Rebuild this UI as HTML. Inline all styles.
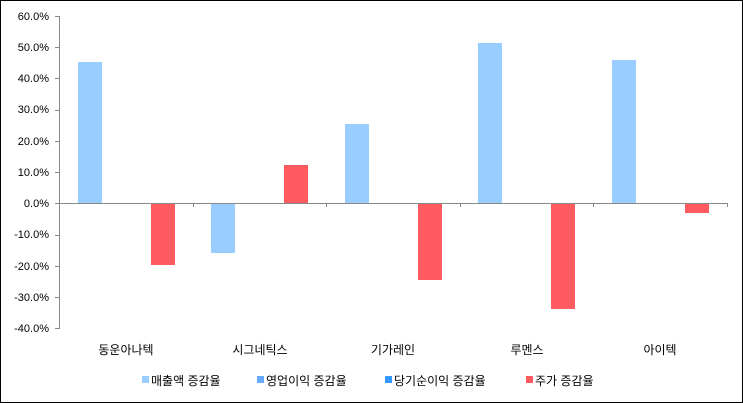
<!DOCTYPE html>
<html><head><meta charset="utf-8"><style>
html,body{margin:0;padding:0;background:#fff}
svg{display:block}
text{font-family:"Liberation Sans","Noto Sans CJK KR","NanumGothic",sans-serif;fill:#000}
</style></head><body>
<svg width="743" height="403" viewBox="0 0 743 403" xmlns="http://www.w3.org/2000/svg">
<rect x="0.5" y="0.5" width="742" height="402" fill="#fff" stroke="#000" stroke-width="1"/>
<g font-size="11" text-anchor="end">
<text x="49" y="20">60.0%</text>
<text x="49" y="51">50.0%</text>
<text x="49" y="82">40.0%</text>
<text x="49" y="113">30.0%</text>
<text x="49" y="145">20.0%</text>
<text x="49" y="176">10.0%</text>
<text x="49" y="207">0.0%</text>
<text x="49" y="238">-10.0%</text>
<text x="49" y="270">-20.0%</text>
<text x="49" y="301">-30.0%</text>
<text x="49" y="332">-40.0%</text>
</g>
<g stroke="#888" stroke-width="1" fill="none">
<line x1="59.5" y1="16" x2="59.5" y2="329"/>
<path d="M55 16.5h4M55 47.5h4M55 78.5h4M55 110.5h4M55 141.5h4M55 172.5h4M55 203.5h4M55 235.5h4M55 266.5h4M55 297.5h4M55 328.5h4"/>
</g>
<g fill="#99ccff">
<rect x="78" y="62" width="24" height="141"/>
<rect x="211" y="203" width="24" height="50"/>
<rect x="345" y="124" width="24" height="79"/>
<rect x="478" y="43" width="24" height="160"/>
<rect x="612" y="60" width="24" height="143"/>
</g>
<g fill="#ff5b61">
<rect x="151" y="203" width="24" height="62"/>
<rect x="284" y="165" width="24" height="38"/>
<rect x="418" y="203" width="24" height="77"/>
<rect x="551" y="203" width="24" height="106"/>
<rect x="685" y="203" width="24" height="10"/>
</g>
<g stroke="#888" stroke-width="1">
<line x1="59" y1="203.5" x2="727" y2="203.5"/>
<path d="M193.5 203v4M326.5 203v4M460.5 203v4M593.5 203v4M727.5 203v4"/>
</g>
<g font-size="12" text-anchor="middle">
<text x="126" y="354">동운아나텍</text>
<text x="260" y="354">시그네틱스</text>
<text x="393" y="354">기가레인</text>
<text x="527" y="354">루멘스</text>
<text x="660" y="354">아이텍</text>
</g>
<g font-size="12">
<rect x="142" y="376" width="7" height="7" fill="#99ccff"/><text x="151" y="385">매출액 증감율</text>
<rect x="257" y="376" width="7" height="7" fill="#66aaff"/><text x="266" y="385">영업이익 증감율</text>
<rect x="385" y="376" width="7" height="7" fill="#3399ff"/><text x="394" y="385">당기순이익 증감율</text>
<rect x="526" y="376" width="7" height="7" fill="#ff5b61"/><text x="535" y="385">주가 증감율</text>
</g>
</svg>
</body></html>
